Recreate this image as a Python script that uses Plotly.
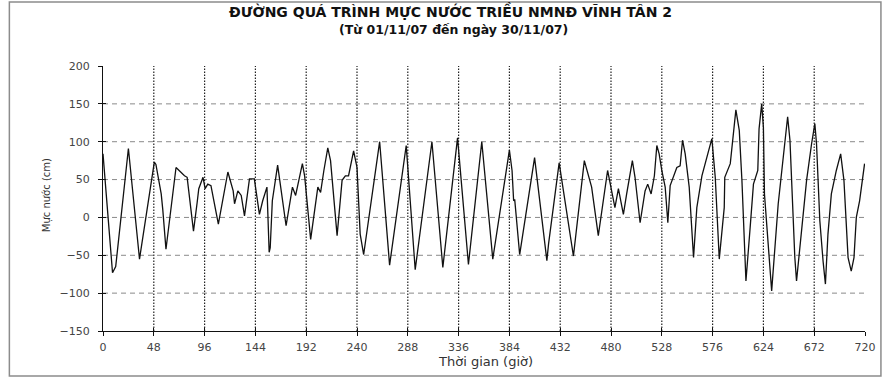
import plotly.graph_objects as go

# Hourly tide record, turning points (hour, cm)
hours = [0, 9, 12, 24, 34.5, 48.5, 50, 55, 56.5, 59.5, 69, 77, 79.5, 85.5, 89, 90.5, 94.5, 96.5, 99, 102,
         109, 118, 123, 124.3, 127.4, 130.6, 133.7, 138.4, 143, 147.8, 150.9, 154.9, 157, 158, 160, 165,
         173, 179, 182, 188.4, 190.5, 196.2, 203, 205.6, 208.7, 212.4, 215, 221.2, 225.9, 229, 232, 236.8,
         240, 243, 246.3, 261.4, 270.8, 286.5, 295, 310.8, 321.1, 335, 345.3, 357.9, 368.3, 384, 386.5,
         388, 389, 393.7, 407.8, 419.4, 421, 431, 444.5, 454.8, 461.7, 468, 476.8, 483.7, 487, 491.7,
         494.8, 500.2, 502.7, 507.5, 512.2, 514.7, 517.9, 520, 521, 523.3, 525.5, 528, 531.2, 533.7,
         535.9, 542.2, 545.3, 547.6, 550.1, 553.9, 558, 561.1, 565.9, 575.3, 578.5, 582.3, 585, 587,
         587.5, 592.7, 598, 601.2, 603.7, 607.5, 611.5, 614.6, 618.7, 619.9, 622.4, 624, 625, 628.7,
         631.8, 638, 642.8, 646.9, 649.1, 652.2, 653.7, 655.3, 657.5, 664.8, 669.5, 672.6, 674.2, 677.3,
         680.4, 682.6, 685, 687.6, 688.2, 692.9, 697, 700.1, 704, 707, 709.6, 711.8, 714.9, 719.6]
levels = [84, -73, -65, 91, -55, 73, 70, 31, 10, -42, 66, 55, 53, -18, 20, 38, 53, 38, 44, 42,
          -9, 60, 35, 18, 35, 29, 2, 51, 51, 4, 22, 40, -46, -40, 22, 69,
          -11, 40, 29, 71, 55, -29, 40, 33, 62, 92, 75, -24, 49, 55, 55, 88,
          66, -22, -49, 100, -63, 95, -69, 100, -66, 105, -62, 100, -55, 89, 62,
          22, 24, -49, 79, -57, -35, 72, -51, 75, 40, -24, 62, 13, 38, 4,
          31, 75, 53, -7, 35, 44, 31, 46, 55, 95, 84, 62, 40, -7,
          42, 66, 68, 102, 84, 40, -53, 13, 55, 104, 53, -55, -18, 13,
          53, 71, 142, 115, 49, -84, -13, 44, 62, 117, 150, 119, 31, -35,
          -97, 18, 80, 133, 102, -9, -53, -84, -51, 49, 97, 124, 97, -4,
          -58, -88, -22, 18, 31, 62, 84, 49, -53, -71, -53, 0, 22, 71]

x_ticks = list(range(0, 721, 48))
y_ticks = list(range(-150, 201, 50))
x_grid = x_ticks[1:-1]
y_grid = y_ticks[1:-1]

title_1 = "ĐƯỜNG QUÁ TRÌNH MỰC NƯỚC TRIỀU NMNĐ VĨNH TÂN 2"
title_2 = "(Từ 01/11/07 đến ngày 30/11/07)"
x_title = "Thời gian (giờ)"
y_title = "Mực nước (cm)"

FONT = "DejaVu Sans"
L, R, T, B, W, H = 103, 20, 66, 49, 888, 380
PW, PH = W - L - R, H - T - B


def px(xp):
    return (xp - L) / PW


def py(yp):
    return (H - B - yp) / PH


fig = go.Figure()
fig.add_trace(go.Scatter(x=hours, y=levels, mode="lines",
                         line=dict(color="#111111", width=1.3), showlegend=False, hoverinfo="skip"))
# helper trace for inner halves of crossing tick marks
fig.add_trace(go.Scatter(x=[0], y=[0], xaxis="x2", yaxis="y2", mode="markers",
                         marker=dict(opacity=0), showlegend=False, hoverinfo="skip"))

shapes = []
for v in y_grid:
    shapes.append(dict(type="line", xref="paper", yref="y", x0=0, x1=1, y0=v, y1=v,
                       line=dict(color="#8a8a8a", width=1, dash="5px,4px"), layer="below"))
for v in x_grid:
    shapes.append(dict(type="line", xref="x", yref="paper", x0=v, x1=v, y0=0, y1=1,
                       line=dict(color="#222222", width=1.2, dash="1.5px,1.5px"), layer="below"))
shapes.append(dict(type="rect", xref="paper", yref="paper",
                   x0=px(9), x1=px(884), y0=py(376), y1=py(2),
                   line=dict(color="#8c8c8c", width=1.5), fillcolor="rgba(0,0,0,0)", layer="above"))

axis_common = dict(showline=True, linecolor="#111111", linewidth=1, ticks="outside", ticklen=4,
                   tickcolor="#111111", showgrid=False, zeroline=False,
                   tickfont=dict(family=FONT, size=11, color="#444444"))

fig.update_layout(
    width=W, height=H,
    margin=dict(l=L, r=R, t=T, b=B),
    paper_bgcolor="white", plot_bgcolor="white",
    xaxis=dict(range=[0, 720], tickmode="array", tickvals=x_ticks, ticklabelstandoff=2, **axis_common),
    yaxis=dict(range=[-150, 200], tickmode="array", tickvals=y_ticks, ticklabelstandoff=6, **axis_common),
    xaxis2=dict(range=[0, 720], overlaying="x", anchor="y2", tickmode="array", tickvals=x_ticks,
                ticks="inside", ticklen=3, tickcolor="#111111", showticklabels=False, showline=False,
                showgrid=False, zeroline=False),
    yaxis2=dict(range=[-150, 200], overlaying="y", anchor="x2", tickmode="array", tickvals=y_ticks,
                ticks="inside", ticklen=3, tickcolor="#111111", showticklabels=False, showline=False,
                showgrid=False, zeroline=False),
    shapes=shapes,
    annotations=[
        dict(text=title_1, xref="paper", yref="paper", x=px(452), y=py(11.5), showarrow=False,
             xanchor="center", yanchor="middle",
             font=dict(family=FONT, size=14, color="#111111", weight="bold")),
        dict(text=title_2, xref="paper", yref="paper", x=px(455), y=py(29), showarrow=False,
             xanchor="center", yanchor="middle",
             font=dict(family=FONT, size=12.5, color="#111111", weight="bold")),
        dict(text=x_title, xref="paper", yref="paper", x=px(487), y=py(361), showarrow=False,
             xanchor="center", yanchor="middle",
             font=dict(family=FONT, size=13, color="#333333")),
        dict(text=y_title, xref="paper", yref="paper", x=px(47), y=py(195), showarrow=False,
             xanchor="center", yanchor="middle", textangle=-90,
             font=dict(family=FONT, size=10, color="#333333")),
    ],
)

fig.write_html("out.html", config={"displayModeBar": False},
               post_script="document.body.style.margin='0';")
